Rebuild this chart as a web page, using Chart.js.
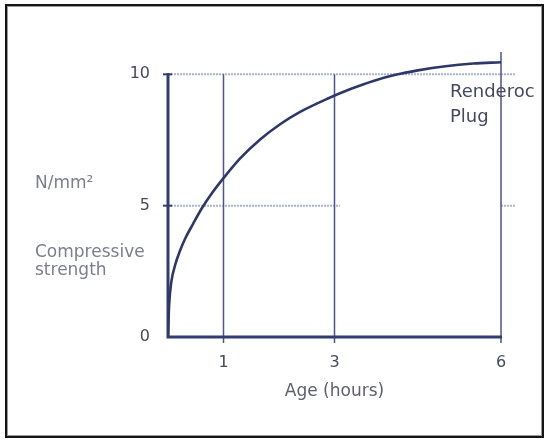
<!DOCTYPE html>
<html>
<head>
<meta charset="utf-8">
<script src="https://cdn.jsdelivr.net/npm/chart.js@4.4.1/dist/chart.umd.min.js"></script>
<style>
  html, body { margin: 0; padding: 0; background: #fff; }
  #wrap { position: relative; width: 544px; height: 440px; overflow: hidden; }
  #frame {
    position: absolute; left: 5px; top: 4px; width: 535px; height: 430px;
    border: 2px solid #151515;
    box-shadow: inset 1px 1px 0 #9a9a9a, inset -1px -1px 0 #9a9a9a;
    pointer-events: none;
  }
</style>
</head>
<body>
<div id="wrap">
  <canvas id="strength-graph" width="544" height="440"></canvas>
  <div id="frame"></div>
</div>
<script>
// age in hours vs compressive strength (N/mm2)
const ageHours = [0, 0.02, 0.06, 0.13, 0.22, 0.31, 0.45, 0.61, 0.8, 1.0, 1.3, 1.66, 2.02, 2.38, 2.87, 3.3, 3.7, 4.1, 4.5, 5.0, 5.5, 6.0]
const strength = [0, 1.2, 2.1, 2.75, 3.3, 3.75, 4.3, 4.9, 5.5, 6.05, 6.8, 7.52, 8.1, 8.57, 9.07, 9.45, 9.75, 9.98, 10.15, 10.31, 10.41, 10.46]
const xTicks = [1, 3, 6]
const yTicks = [0, 5, 10]
const seriesName = ['Renderoc', 'Plug']
const yLabel = ['N/mm²', 'Compressive', 'strength']
const xLabel = 'Age (hours)'

const navy = '#323c70'
const font = '"DejaVu Sans", sans-serif'

const guides = {
    id: 'guides',
    beforeDatasetsDraw(chart) {
        const ctx = chart.ctx
        const x = chart.scales.x
        const y = chart.scales.y
        const x0 = x.getPixelForValue(0)
        const y0 = y.getPixelForValue(0)
        ctx.save()
        // light horizontal lines at 5 and 10
        ctx.strokeStyle = '#a9b3d0'
        ctx.lineWidth = 2
        ctx.setLineDash([2, 1])
        const light = [[10, 0, 6.25], [5, 0, 3.1], [5, 6, 6.25]]
        for (let l of light) {
            ctx.beginPath()
            ctx.moveTo(x.getPixelForValue(l[1]), y.getPixelForValue(l[0]))
            ctx.lineTo(x.getPixelForValue(l[2]), y.getPixelForValue(l[0]))
            ctx.stroke()
        }
        ctx.setLineDash([])
        // vertical lines at the x ticks
        ctx.strokeStyle = '#4b5488'
        ctx.lineWidth = 1.5
        for (let t of xTicks) {
            const px = x.getPixelForValue(t)
            const top = t == 6 ? chart.chartArea.top : y.getPixelForValue(10)
            ctx.beginPath()
            ctx.moveTo(px, top)
            ctx.lineTo(px, y0 + 6)
            ctx.stroke()
        }
        // axes
        ctx.strokeStyle = navy
        ctx.lineWidth = 3
        ctx.beginPath()
        ctx.moveTo(x0, y.getPixelForValue(10) - 1)
        ctx.lineTo(x0, y0)
        ctx.lineTo(x.getPixelForValue(6) + 1, y0)
        ctx.stroke()
        ctx.lineWidth = 2
        for (let t of [5, 10]) {
            ctx.beginPath()
            ctx.moveTo(x0 - 5, y.getPixelForValue(t))
            ctx.lineTo(x0 + 4, y.getPixelForValue(t))
            ctx.stroke()
        }
        ctx.restore()
    },
    afterDraw(chart) {
        const ctx = chart.ctx
        ctx.save()
        ctx.textBaseline = 'alphabetic'
        ctx.textAlign = 'left'
        ctx.fillStyle = '#7a7e8e'
        ctx.font = '17px ' + font
        ctx.fillText(yLabel[0], 35, 188)
        ctx.fillText(yLabel[1], 35, 257)
        ctx.fillText(yLabel[2], 35, 275)
        ctx.fillStyle = '#45495e'
        ctx.font = '18px ' + font
        ctx.fillText(seriesName[0], 450, 97)
        ctx.fillText(seriesName[1], 450, 122)
        ctx.restore()
    }
}

window.addEventListener('load', function() {
    const canvas_graph = document.getElementById('strength-graph')
    const points = ageHours.map((a, i) => ({x: a, y: strength[i]}))
    const graph = new Chart(canvas_graph, {
        type: 'line',
        data: {
            datasets: [{
                label: seriesName.join(' '),
                data: points,
                borderColor: '#2d3768',
                borderWidth: 2.6,
                pointRadius: 0,
                fill: false,
                cubicInterpolationMode: 'monotone'
            }]
        },
        options: {
            responsive: false,
            animation: false,
            events: [],
            layout: { padding: { left: 0, top: 52, right: 43, bottom: 0 } },
            plugins: { legend: { display: false }, tooltip: { enabled: false } },
            scales: {
                x: {
                    type: 'linear',
                    min: 0,
                    max: 6,
                    afterBuildTicks: s => { s.ticks = xTicks.map(v => ({value: v})) },
                    afterFit: s => { s.height = 103 },
                    grid: { display: false, drawTicks: false },
                    border: { display: false },
                    ticks: { color: '#454a5e', font: { family: font, size: 16 }, padding: 16 },
                    title: { display: true, text: xLabel, color: '#5c6072', font: { family: font, size: 17 }, padding: { top: 4, bottom: 38 } }
                },
                y: {
                    min: 0,
                    max: 10.85,
                    afterBuildTicks: s => { s.ticks = yTicks.map(v => ({value: v})) },
                    afterFit: s => { s.width = 168 },
                    grid: { display: false, drawTicks: false },
                    border: { display: false },
                    ticks: { color: '#454a5e', font: { family: font, size: 16 }, padding: 18 }
                }
            }
        },
        plugins: [guides]
    })
})
</script>
</body>
</html>
